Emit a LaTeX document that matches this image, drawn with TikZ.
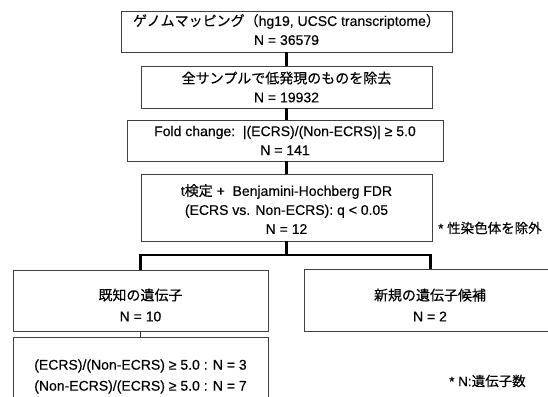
\documentclass[tikz,border=0pt]{standalone}
\usepackage{fontspec}
\setmainfont[FakeBold=0.3]{Liberation Sans}
\newfontfamily\jp[FakeBold=0.3]{Noto Sans CJK JP}
\usetikzlibrary{shadows}
\begin{document}
\begin{tikzpicture}[x=1pt,y=-1pt,
  box/.style={draw=black!75, line width=0.8pt, fill=white, inner sep=0pt,
    drop shadow={shadow xshift=1pt, shadow yshift=-1pt, fill=black!55, opacity=0.8}},
  txt/.style={align=center, inner sep=0pt, font=\fontsize{14}{19}\selectfont},
  txtw/.style={align=center, inner sep=0pt, font=\fontsize{14}{21}\selectfont},
  note/.style={inner sep=0pt, anchor=west, font=\fontsize{13.5}{16}\selectfont},
  link/.style={line width=2.4pt, black}]
\clip (0,0) rectangle (548,396);
\fill[white] (0,0) rectangle (548,396);

% boxes
\node[box, minimum width=331pt, minimum height=41pt] (b1) at (286.5,31.5) {};
\node[box, minimum width=291pt, minimum height=42pt] (b2) at (286.5,87) {};
\node[box, minimum width=316pt, minimum height=41pt] (b3) at (285,140.5) {};
\node[box, minimum width=291pt, minimum height=67pt] (b4) at (286.5,207.5) {};
\node[box, minimum width=255pt, minimum height=61pt] (b5) at (140.5,300.5) {};
\node[box, minimum width=253pt, minimum height=62pt] (b7) at (430.5,300) {};
\node[box, minimum width=255pt, minimum height=83pt] (b6) at (140.5,378.5) {};

% connectors
\draw[link] (b1.south) -- (b2.north);
\draw[link] (b2.south) -- (b2.south |- b3.north);
\draw[link] (b4.north |- b3.south) -- (b4.north);
\coordinate (j) at (286.5,255);
\draw[link] (b4.south) -- (j);
\draw[link] (b5.north) |- (j) -| (b7.north);
\draw[line width=1.5pt, black!80] (b5.south) -- (b6.north);

% texts
\node[txt] (t1) at (286.5,29.5) {{\jp ゲノムマッピング（}hg19, UCSC transcriptome{\jp ）}\\N = 36579};
\node[txt] (t2) at (286.5,87) {{\jp 全サンプルで低発現のものを除去}\\N = 19932};
\node[txt] (t3) at (285,140.5) {Fold change:\ \ |(ECRS)/(Non-ECRS)| ≥ 5.0\\N = 141};
\node[txt] (t4) at (286.5,209) {t{\jp 検定} +\ \ Benjamini-Hochberg FDR\\(ECRS vs. Non-ECRS): q < 0.05\\N = 12};
\node[txtw] (t5) at (140.5,305) {{\jp 既知の遺伝子}\\N = 10};
\node[txtw] (t7) at (430,305) {{\jp 新規の遺伝子候補}\\N = 2};
\node[txtw] (t6) at (140.5,376.5) {(ECRS)/(Non-ECRS) ≥ 5.0 : N = 3\\(Non-ECRS)/(ECRS) ≥ 5.0 : N = 7};

\node[note] (n1) at (438,228) {* {\jp 性染色体を除外}};
\node[note] (n2) at (449,381) {* N:{\jp 遺伝子数}};
\end{tikzpicture}
\end{document}
